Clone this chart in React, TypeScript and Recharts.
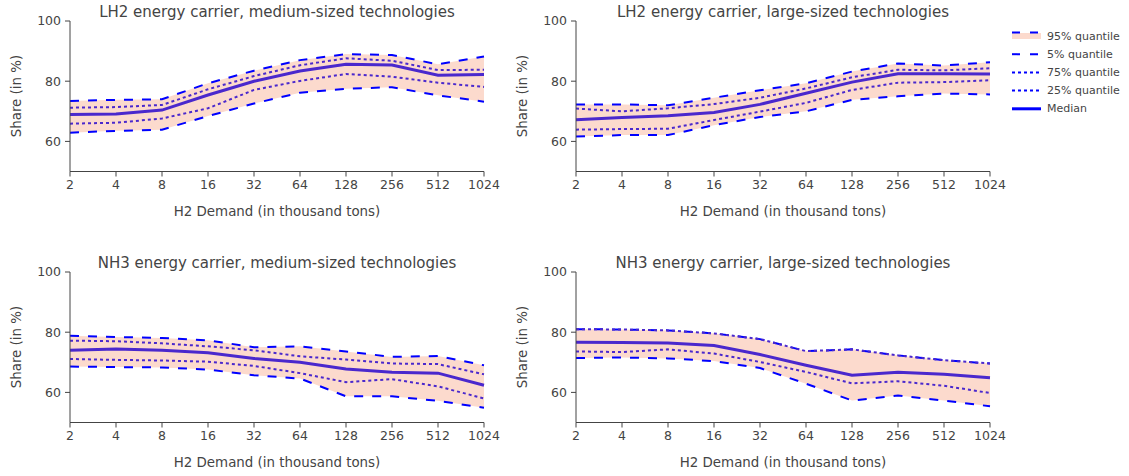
import { ComposedChart, Line, Area, XAxis, YAxis } from "recharts";

// H2 demand steps (thousand tons), shown as evenly spaced categories
const DEMAND = ["2", "4", "8", "16", "32", "64", "128", "256", "512", "1024"];
const SHARE_TICKS = [60, 80, 100];

// LH2, medium-sized technologies
const lh2MedP95 = [73.4, 73.8, 74.0, 79.3, 83.5, 87.0, 89.0, 88.7, 85.6, 88.2];
const lh2MedP75 = [71.2, 71.4, 72.1, 77.3, 81.7, 85.3, 87.6, 86.8, 83.7, 83.8];
const lh2MedMedian = [68.9, 69.1, 70.4, 75.4, 80.0, 83.4, 85.6, 85.4, 82.0, 82.2];
const lh2MedP25 = [65.9, 66.2, 67.6, 71.0, 77.1, 80.1, 82.4, 81.5, 79.5, 78.1];
const lh2MedP5 = [62.9, 63.5, 63.9, 68.4, 72.6, 76.2, 77.5, 78.0, 75.3, 73.2];

// LH2, large-sized technologies
const lh2LargeP95 = [72.3, 72.3, 72.0, 74.5, 77.0, 79.3, 83.2, 85.9, 85.2, 86.3];
const lh2LargeP75 = [70.9, 70.0, 71.0, 72.4, 74.5, 77.6, 81.3, 83.8, 83.6, 84.3];
const lh2LargeMedian = [67.2, 67.9, 68.5, 69.6, 72.3, 76.0, 79.7, 82.5, 82.5, 82.4];
const lh2LargeP25 = [63.9, 64.1, 64.2, 67.1, 69.9, 72.8, 77.1, 79.5, 79.7, 80.3];
const lh2LargeP5 = [61.6, 62.1, 62.1, 65.4, 68.1, 70.0, 73.8, 75.0, 75.9, 75.6];

// NH3, medium-sized technologies
const nh3MedP95 = [78.8, 78.4, 78.1, 77.3, 75.0, 75.3, 73.6, 71.8, 72.1, 69.0];
const nh3MedP75 = [77.2, 77.0, 76.3, 75.3, 74.0, 72.0, 70.9, 69.6, 69.4, 66.0];
const nh3MedMedian = [74.0, 74.4, 74.0, 73.2, 71.3, 70.0, 67.8, 66.7, 66.4, 62.4];
const nh3MedP25 = [71.1, 70.8, 70.6, 70.2, 68.8, 66.4, 63.4, 64.4, 62.0, 58.0];
const nh3MedP5 = [68.6, 68.4, 68.3, 67.6, 65.7, 64.6, 58.7, 58.7, 57.2, 54.9];

// NH3, large-sized technologies (upper quartile sits on the 95% line)
const nh3LargeP95 = [81.0, 80.9, 80.6, 79.6, 77.7, 73.7, 74.3, 72.3, 70.7, 69.6];
const nh3LargeP75 = [81.0, 80.9, 80.6, 79.6, 77.7, 73.7, 74.3, 72.3, 70.7, 69.6];
const nh3LargeMedian = [76.7, 76.6, 76.4, 75.6, 72.6, 69.0, 65.7, 66.7, 66.0, 64.9];
const nh3LargeP25 = [73.6, 73.4, 74.3, 72.9, 70.1, 66.8, 63.0, 63.7, 62.2, 59.8];
const nh3LargeP5 = [71.4, 71.6, 71.3, 70.4, 68.1, 62.9, 57.3, 59.0, 57.3, 55.4];

const FONT = '"DejaVu Sans", Verdana, sans-serif';
const TEXT = "#444";
const BLUE = "#0000ff";
const BAND = "#fcdacd";
// blue seen through the translucent band
const INNER = "#4a28cd";

type Quantiles = {
  p95: number[];
  p75: number[];
  median: number[];
  p25: number[];
  p5: number[];
};

const panels: { title: string; q: Quantiles }[] = [
  {
    title: "LH2 energy carrier, medium-sized technologies",
    q: { p95: lh2MedP95, p75: lh2MedP75, median: lh2MedMedian, p25: lh2MedP25, p5: lh2MedP5 },
  },
  {
    title: "LH2 energy carrier, large-sized technologies",
    q: { p95: lh2LargeP95, p75: lh2LargeP75, median: lh2LargeMedian, p25: lh2LargeP25, p5: lh2LargeP5 },
  },
  {
    title: "NH3 energy carrier, medium-sized technologies",
    q: { p95: nh3MedP95, p75: nh3MedP75, median: nh3MedMedian, p25: nh3MedP25, p5: nh3MedP5 },
  },
  {
    title: "NH3 energy carrier, large-sized technologies",
    q: { p95: nh3LargeP95, p75: nh3LargeP75, median: nh3LargeMedian, p25: nh3LargeP25, p5: nh3LargeP5 },
  },
];

const PANEL_POS = [
  [0, 0],
  [506, 0],
  [0, 251],
  [506, 251],
];

const CHART_W = 510;
const CHART_H = 240;
const MARGIN = { top: 21, right: 26, bottom: 38.5, left: 20 };
const PLOT_LEFT = MARGIN.left + 50;
const PLOT_W = CHART_W - PLOT_LEFT - MARGIN.right;
const PLOT_H = CHART_H - MARGIN.top - MARGIN.bottom - 30;

function Panel({ title, q, left, top }: { title: string; q: Quantiles; left: number; top: number }) {
  const rows = DEMAND.map((d, i) => ({
    demand: d,
    p95: q.p95[i],
    p75: q.p75[i],
    median: q.median[i],
    p25: q.p25[i],
    p5: q.p5[i],
    band: [q.p5[i], q.p95[i]],
  }));
  const cx = PLOT_LEFT + PLOT_W / 2;
  const plotBottom = MARGIN.top + PLOT_H;

  return (
    <div style={{ position: "absolute", left, top, width: CHART_W, height: CHART_H }}>
      <ComposedChart width={CHART_W} height={CHART_H} data={rows} margin={MARGIN}>
        <XAxis
          dataKey="demand"
          type="category"
          scale="point"
          padding={{ left: 0, right: 0 }}
          interval={0}
          height={30}
          tickSize={5}
          tickMargin={4}
          stroke={TEXT}
          tick={{ fill: TEXT, fontSize: 12.5, fontFamily: FONT }}
        />
        <YAxis
          type="number"
          domain={[50, 100]}
          ticks={SHARE_TICKS}
          allowDataOverflow
          width={50}
          tickSize={5}
          tickMargin={4}
          stroke={TEXT}
          tick={{ fill: TEXT, fontSize: 12.5, fontFamily: FONT }}
        />
        <Area
          dataKey="band"
          stroke="none"
          fill={BAND}
          fillOpacity={1}
          dot={false}
          activeDot={false}
          isAnimationActive={false}
        />
        <Line dataKey="p95" stroke={BLUE} strokeWidth={2} strokeDasharray="9 9" dot={false} isAnimationActive={false} />
        <Line dataKey="p5" stroke={BLUE} strokeWidth={2} strokeDasharray="9 9" dot={false} isAnimationActive={false} />
        <Line dataKey="p75" stroke={INNER} strokeWidth={2} strokeDasharray="3 3" dot={false} isAnimationActive={false} />
        <Line dataKey="p25" stroke={INNER} strokeWidth={2} strokeDasharray="3 3" dot={false} isAnimationActive={false} />
        <Line dataKey="median" stroke={INNER} strokeWidth={3} dot={false} isAnimationActive={false} />
      </ComposedChart>
      <div
        style={{
          position: "absolute",
          left: cx - 250,
          width: 500,
          top: MARGIN.top - 20,
          textAlign: "center",
          fontSize: 15,
          color: TEXT,
          fontFamily: FONT,
          lineHeight: "22px",
        }}
      >
        {title}
      </div>
      <div
        style={{
          position: "absolute",
          left: cx - 250,
          width: 500,
          top: plotBottom + 30,
          textAlign: "center",
          fontSize: 13.4,
          color: TEXT,
          fontFamily: FONT,
          lineHeight: "20px",
        }}
      >
        H2 Demand (in thousand tons)
      </div>
      <div
        style={{
          position: "absolute",
          left: PLOT_LEFT - 53 - 100,
          width: 200,
          top: MARGIN.top + PLOT_H / 2 - 10,
          textAlign: "center",
          fontSize: 13.4,
          color: TEXT,
          fontFamily: FONT,
          lineHeight: "20px",
          transform: "rotate(-90deg)",
        }}
      >
        Share (in %)
      </div>
    </div>
  );
}

const LEGEND = [
  { label: "95% quantile", dash: "8 10", width: 2, band: true },
  { label: "5% quantile", dash: "8 10", width: 2, band: false },
  { label: "75% quantile", dash: "3 3", width: 2, band: false },
  { label: "25% quantile", dash: "3 3", width: 2, band: false },
  { label: "Median", dash: undefined, width: 3, band: false },
];

function QuantileLegend() {
  return (
    <svg style={{ position: "absolute", left: 1000, top: 20 }} width={129} height={100}>
      {LEGEND.map((item, i) => {
        const y = 16 + i * 18.2;
        return (
          <g key={item.label}>
            {item.band && <rect x={12} y={y - 3} width={29} height={6} fill={BAND} />}
            <line
              x1={12}
              x2={41}
              y1={item.band ? y - 3.5 : y}
              y2={item.band ? y - 3.5 : y}
              stroke={BLUE}
              strokeWidth={item.width}
              strokeDasharray={item.dash}
            />
            <text x={47} y={y} dominantBaseline="central" fontSize={11} fill={TEXT} fontFamily={FONT}>
              {item.label}
            </text>
          </g>
        );
      })}
    </svg>
  );
}

export default function App() {
  return (
    <div
      style={{
        position: "absolute",
        left: 0,
        top: 0,
        width: 1129,
        height: 476,
        background: "#fff",
        fontFamily: FONT,
        overflow: "hidden",
      }}
    >
      {panels.map((p, i) => (
        <Panel key={p.title} title={p.title} q={p.q} left={PANEL_POS[i][0]} top={PANEL_POS[i][1]} />
      ))}
      <QuantileLegend />
    </div>
  );
}
